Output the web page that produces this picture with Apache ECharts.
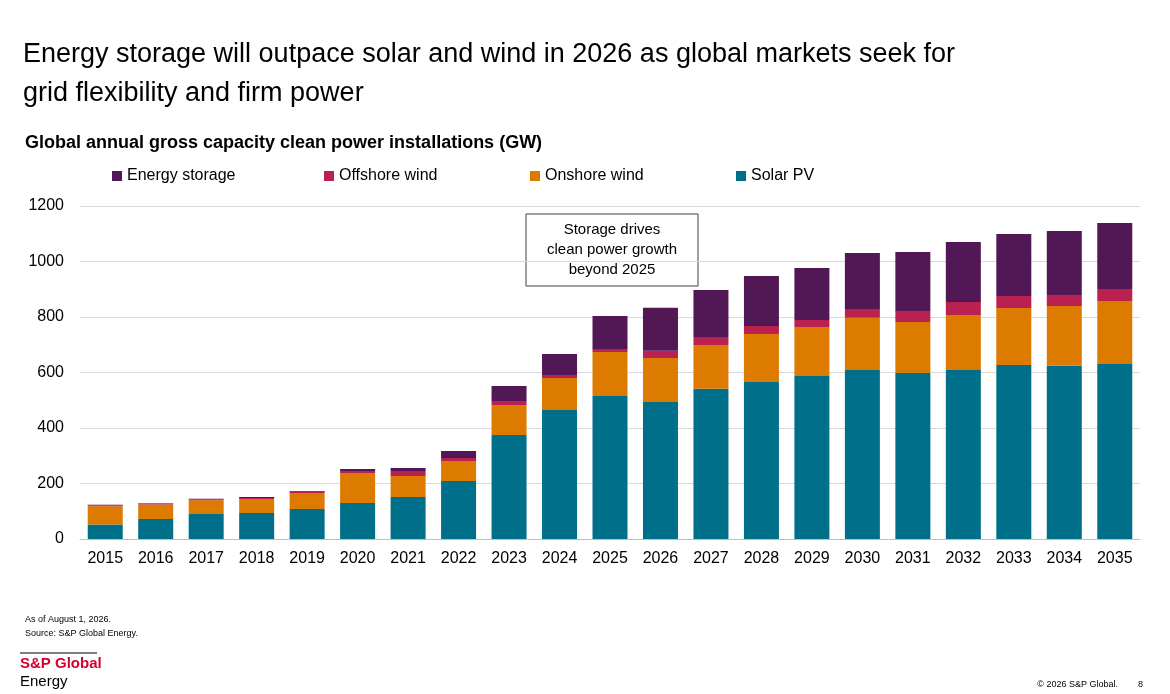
<!DOCTYPE html>
<html>
<head>
<meta charset="utf-8">
<script src="https://cdn.jsdelivr.net/npm/echarts@6/dist/echarts.min.js"></script>
<style>
body{margin:0;background:#fff;}
#chartmain{width:1170px;height:694px;}
</style>
</head>
<body>
<div id="chartmain"></div>
<script>
var years = ['2015','2016','2017','2018','2019','2020','2021','2022','2023','2024','2025','2026','2027','2028','2029','2030','2031','2032','2033','2034','2035'];
var solarPV = [52,72,90,94,108,130,151,209,375,465,515,494,541,566,587,609,598,609,627,624,631];
var onshoreWind = [66,52,50,50,58,108,76,72,108,115,159,158,158,173,177,188,184,198,205,216,227];
var offshoreWind = [3,3,3,4,4,7,18,11,14,11,11,26,29,29,25,32,40,47,44,39,43];
var energyStorage = [2,2,2,3,3,7,11,25,54,76,119,155,169,180,188,202,212,216,223,231,238];

var font = 'Arial, "Liberation Sans", sans-serif';
function bar(name, data, color) {
	return { name: name, type: 'bar', stack: 'total', data: data, barWidth: 35,
		itemStyle: { color: color }, emphasis: { disabled: true } };
}
function leg(name, left) {
	return { data: [name], left: left, top: 163, itemWidth: 10, itemHeight: 10, icon: 'rect',
		textStyle: { fontFamily: font, fontSize: 16, color: '#000' } };
}
var option = {
	animation: false,
	textStyle: { fontFamily: font },
	title: [
		{ text: 'Energy storage will outpace solar and wind in 2026 as global markets seek for\ngrid flexibility and firm power',
			left: 18, top: 30, textStyle: { fontFamily: font, fontSize: 27, fontWeight: 'normal', color: '#000', lineHeight: 39 } },
		{ text: 'Global annual gross capacity clean power installations (GW)', left: 20, top: 129,
			textStyle: { fontFamily: font, fontSize: 18, fontWeight: 'bold', color: '#000' } },
		{ text: 'As of August 1, 2026.\nSource: S&P Global Energy.', left: 20, top: 608,
			textStyle: { fontFamily: font, fontSize: 9, fontWeight: 'normal', color: '#000', lineHeight: 14 } },
		{ text: '© 2026 S&P Global.        8', right: 22, top: 675,
			textStyle: { fontFamily: font, fontSize: 9, fontWeight: 'normal', color: '#000' } }
	],
	legend: [
		leg('Energy storage', 107),
		leg('Offshore wind', 319),
		leg('Onshore wind', 525),
		leg('Solar PV', 731)
	],
	grid: { left: 80, right: 30, top: 206, bottom: 155 },
	xAxis: {
		type: 'category', data: years,
		axisLine: { lineStyle: { color: '#bfbfbf' } }, axisTick: { show: false },
		axisLabel: { color: '#000', fontSize: 16, margin: 12 }
	},
	yAxis: {
		type: 'value', min: 0, max: 1200, interval: 200,
		axisLabel: { color: '#000', fontSize: 16, margin: 16, formatter: function (v) { return String(v); } },
		splitLine: { lineStyle: { color: '#d9d9d9' } }
	},
	series: [
		bar('Solar PV', solarPV, '#00708a'),
		bar('Onshore wind', onshoreWind, '#dd7a00'),
		bar('Offshore wind', offshoreWind, '#bb2150'),
		bar('Energy storage', energyStorage, '#521755')
	],
	graphic: [
		{ type: 'rect', shape: { x: 526, y: 214, width: 172, height: 72 },
			style: { fill: '#fff', stroke: '#404040', lineWidth: 1 } },
		{ type: 'text', x: 612, y: 250, style: { text: 'Storage drives\nclean power growth\nbeyond 2025',
			fill: '#000', font: '15px ' + font, align: 'center', verticalAlign: 'middle', lineHeight: 20 } },
		{ type: 'line', shape: { x1: 20, y1: 653, x2: 97, y2: 653 }, style: { stroke: '#000', lineWidth: 1 } },
		{ type: 'text', x: 20, y: 656, style: { text: 'S&P Global', fill: '#d6002a', font: 'bold 15px ' + font } },
		{ type: 'text', x: 20, y: 674, style: { text: 'Energy', fill: '#000', font: '15px ' + font } }
	]
};
var myChart = echarts.init(document.getElementById('chartmain'));
myChart.setOption(option);
</script>
</body>
</html>
